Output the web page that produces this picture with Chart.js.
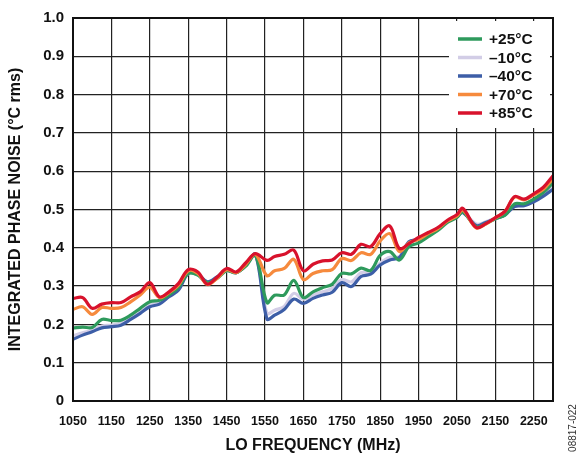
<!DOCTYPE html>
<html>
<head>
<meta charset="utf-8">
<script src="https://cdn.jsdelivr.net/npm/chart.js@4.4.1/dist/chart.umd.min.js"></script>
<style>
  html, body { margin: 0; padding: 0; background: #fff; }
  #wrap { width: 579px; height: 458px; position: relative; }
</style>
</head>
<body>
<div id="wrap"><canvas id="chart"></canvas></div>
<script>
// LO frequency (MHz)
const freq = [1050,1075,1100,1125,1150,1175,1200,1225,1250,1275,1300,1325,1350,1375,1400,1425,1450,1475,1500,1525,
  1555,1575,1600,1625,1650,1675,1700,1725,1750,1775,1800,1825,1850,1875,1900,1925,1950,1975,2000,2025,2050,2065,
  2100,2125,2150,2175,2200,2225,2250,2275,2300];

// integrated phase noise (°C rms)
const t85 = [0.268,0.27,0.242,0.253,0.257,0.257,0.272,0.285,0.309,0.272,0.285,0.307,0.343,0.337,0.305,0.323,0.346,0.337,0.361,0.385,
  0.367,0.377,0.383,0.394,0.34,0.357,0.366,0.368,0.387,0.383,0.409,0.403,0.437,0.457,0.398,0.411,0.427,0.44,0.453,0.472,0.487,0.503,
  0.453,0.463,0.479,0.495,0.534,0.527,0.541,0.558,0.588];
const t70 = [0.239,0.246,0.226,0.244,0.242,0.244,0.259,0.277,0.297,0.27,0.283,0.303,0.34,0.333,0.304,0.32,0.343,0.335,0.357,0.383,
  0.327,0.34,0.346,0.37,0.317,0.333,0.34,0.343,0.372,0.367,0.387,0.383,0.418,0.437,0.39,0.413,0.422,0.437,0.45,0.47,0.483,0.499,
  0.452,0.462,0.478,0.495,0.532,0.525,0.538,0.553,0.58];
const t25 = [0.191,0.193,0.192,0.213,0.21,0.211,0.224,0.242,0.259,0.263,0.277,0.297,0.333,0.329,0.309,0.32,0.34,0.335,0.352,0.381,
  0.257,0.276,0.277,0.315,0.27,0.285,0.296,0.305,0.333,0.332,0.347,0.341,0.38,0.39,0.368,0.403,0.413,0.429,0.445,0.466,0.479,0.494,
  0.455,0.463,0.476,0.485,0.515,0.515,0.527,0.545,0.57];
const tm10 = [0.17,0.178,0.185,0.196,0.198,0.203,0.218,0.235,0.252,0.259,0.274,0.293,0.333,0.329,0.31,0.322,0.34,0.335,0.354,0.382,
  0.229,0.237,0.247,0.281,0.266,0.277,0.285,0.294,0.317,0.311,0.335,0.337,0.36,0.375,0.377,0.416,0.422,0.436,0.45,0.468,0.481,0.493,
  0.462,0.468,0.478,0.49,0.512,0.514,0.523,0.54,0.563];
const tm40 = [0.161,0.172,0.181,0.191,0.194,0.198,0.213,0.229,0.246,0.253,0.272,0.29,0.333,0.331,0.311,0.324,0.341,0.335,0.355,0.383,
  0.214,0.224,0.239,0.266,0.255,0.268,0.277,0.284,0.309,0.299,0.325,0.331,0.355,0.368,0.375,0.416,0.422,0.436,0.45,0.468,0.481,0.492,
  0.458,0.466,0.476,0.486,0.508,0.51,0.52,0.535,0.553];

const xTicks = [1050,1150,1250,1350,1450,1550,1650,1750,1850,1950,2050,2150,2250,2300];
const yTicks = [0,0.1,0.2,0.3,0.4,0.5,0.6,0.7,0.8,0.9,1.0];
const yTickLabels = ['0','0.1','0.2','0.3','0.4','0.5','0.6','0.7','0.8','0.9','1.0'];

const legendLabels = ['+25°C', '–10°C', '–40°C', '+70°C', '+85°C'];
const colors = {
  '+25°C': '#2e9a5c',
  '–10°C': '#d2cde6',
  '–40°C': '#3d5ea7',
  '+70°C': '#f68a3d',
  '+85°C': '#d8122c'
};

const FONT = "'Liberation Sans', Arial, sans-serif";

const toPts = ys => ys.map((y, i) => ({ x: freq[i], y: y }));

// index 0 is drawn on top
const series = [
  ['+85°C', t85],
  ['+70°C', t70],
  ['+25°C', t25],
  ['–40°C', tm40],
  ['–10°C', tm10]
];

// legend box, frame and figure id
const overlay = {
  id: 'overlay',
  afterDraw(chart) {
    const ctx = chart.ctx;
    const a = chart.chartArea;
    ctx.save();
    ctx.fillStyle = '#fff';
    ctx.fillRect(a.right - 104, a.top + 3, 101, 107);

    ctx.font = 'bold 15.5px ' + FONT;
    ctx.textBaseline = 'middle';
    ctx.textAlign = 'left';
    legendLabels.forEach((lab, i) => {
      const y = a.top + 21 + i * 18.5;
      ctx.strokeStyle = colors[lab];
      ctx.lineWidth = 3.5;
      ctx.beginPath();
      ctx.moveTo(a.right - 95, y);
      ctx.lineTo(a.right - 71, y);
      ctx.stroke();
      ctx.fillStyle = '#111';
      ctx.fillText(lab, a.right - 64, y + 1);
    });

    ctx.strokeStyle = '#111';
    ctx.lineWidth = 2;
    ctx.strokeRect(a.left, a.top, a.right - a.left, a.bottom - a.top);

    ctx.translate(573, 428);
    ctx.rotate(-Math.PI / 2);
    ctx.font = '10px ' + FONT;
    ctx.fillStyle = '#333';
    ctx.textAlign = 'center';
    ctx.fillText('08817-022', 0, 0);
    ctx.restore();
  }
};

new Chart(document.getElementById('chart'), {
  type: 'line',
  data: {
    datasets: series.map(([lab, ys]) => ({
      label: lab,
      data: toPts(ys),
      borderColor: colors[lab],
      backgroundColor: colors[lab],
      borderWidth: 3.2,
      pointRadius: 0,
      tension: 0.35,
      fill: false
    }))
  },
  options: {
    responsive: true,
    maintainAspectRatio: false,
    animation: false,
    layout: { padding: { left: 0, top: 16, right: 26, bottom: 0 } },
    plugins: { legend: { display: false }, tooltip: { enabled: false } },
    scales: {
      x: {
        type: 'linear',
        min: 1050,
        max: 2300,
        afterBuildTicks: s => { s.ticks = xTicks.map(v => ({ value: v })); },
        afterFit: s => { s.height = 57; },
        grid: { color: '#222', lineWidth: 1.2, drawTicks: false },
        border: { display: false },
        ticks: {
          color: '#111',
          padding: 13,
          maxRotation: 0,
          autoSkip: false,
          font: { family: FONT, size: 12.5, weight: 'bold' },
          callback: v => (v === 2300 ? '' : String(v))
        },
        title: {
          display: true,
          text: 'LO FREQUENCY (MHz)',
          color: '#111',
          padding: { top: 0, bottom: 3 },
          font: { family: FONT, size: 16, weight: 'bold' }
        }
      },
      y: {
        min: 0,
        max: 1,
        afterBuildTicks: s => { s.ticks = yTicks.map(v => ({ value: v })); },
        afterFit: s => { s.width = 73; },
        grid: { color: '#222', lineWidth: 1.2, drawTicks: false },
        border: { display: false },
        ticks: {
          color: '#111',
          padding: 9,
          autoSkip: false,
          font: { family: FONT, size: 15, weight: 'bold' },
          callback: (v, i) => yTickLabels[i]
        },
        title: {
          display: true,
          text: 'INTEGRATED PHASE NOISE (°C rms)',
          color: '#111',
          padding: { top: 6, bottom: 0 },
          font: { family: FONT, size: 16, weight: 'bold' }
        }
      }
    }
  },
  plugins: [overlay]
});
</script>
</body>
</html>
